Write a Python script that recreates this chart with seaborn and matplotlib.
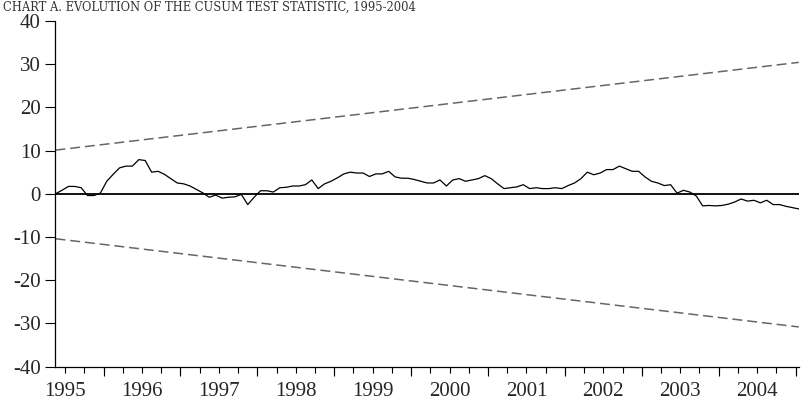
import numpy as np
import pandas as pd
import matplotlib
matplotlib.use("Agg")
from matplotlib import pyplot as plt
import seaborn as sns

OUTFILE = "out.png"

# monthly observations, first one is May 1995
START_YEAR = 1995 + 4.5 / 12

cusum = [0.0, 0.8, 1.7, 1.7, 1.4, -0.4, -0.4, 0.15, 2.9, 4.5,
         6.0, 6.4, 6.4, 7.9, 7.7, 5.0, 5.2, 4.5, 3.5, 2.5,
         2.3, 1.8, 1.0, 0.2, -0.8, -0.3, -1.0, -0.8, -0.7, -0.15,
         -2.5, -0.8, 0.7, 0.7, 0.4, 1.4, 1.5, 1.8, 1.8, 2.1,
         3.2, 1.2, 2.3, 2.9, 3.7, 4.6, 5.0, 4.8, 4.8, 4.0,
         4.6, 4.6, 5.2, 3.9, 3.6, 3.6, 3.3, 2.9, 2.5, 2.5,
         3.2, 1.8, 3.2, 3.5, 2.9, 3.2, 3.5, 4.2, 3.5, 2.3,
         1.2, 1.4, 1.6, 2.1, 1.2, 1.4, 1.2, 1.2, 1.4, 1.2,
         1.9, 2.5, 3.5, 5.0, 4.4, 4.8, 5.6, 5.6, 6.4, 5.8,
         5.2, 5.2, 3.9, 2.9, 2.5, 1.9, 2.1, 0.15, 0.8, 0.4,
         -0.5, -2.8, -2.7, -2.8, -2.7, -2.4, -1.9, -1.2, -1.7, -1.5,
         -2.1, -1.5, -2.5, -2.5, -2.9, -3.2, -3.5]

# 5% significance bands (straight lines), value at first and last obs
band_names = ["upper", "lower"]
band_start = [10.1, -10.4]
band_end = [30.4, -30.8]

year_labels = list(range(1995, 2005))
y_ticks = list(range(-40, 41, 10))

TITLE = "CHART A. EVOLUTION OF THE CUSUM TEST STATISTIC, 1995-2004"


def plot_cusum():
    t = START_YEAR + np.arange(len(cusum)) / 12
    df = pd.DataFrame({"t": t, "cusum": cusum})

    rows = []
    for name, a, b in zip(band_names, band_start, band_end):
        rows.append({"t": t[0], "v": a, "band": name})
        rows.append({"t": t[-1], "v": b, "band": name})
    bands = pd.DataFrame(rows)

    fig = plt.figure(figsize=(8.02, 4.01), dpi=100)
    ax = fig.add_axes([0.0692, 0.0855, 0.9268, 0.8625])

    sns.lineplot(data=bands, x="t", y="v", units="band", estimator=None,
                 color="#666666", linewidth=1.1, linestyle=(0, (6.5, 3.2)), ax=ax)
    ax.axhline(0, color="black", linewidth=1.3, zorder=3)
    sns.lineplot(data=df, x="t", y="cusum", color="black", linewidth=0.9, ax=ax, zorder=4)

    ax.set_xlim(t[0], t[-1])
    ax.set_ylim(-40, 40)
    ax.set_xlabel("")
    ax.set_ylabel("")

    ax.set_yticks(y_ticks)
    ax.set_yticklabels([str(v) for v in y_ticks])
    ax.tick_params(axis="y", direction="out", length=7.5, width=0.8, pad=3,
                   labelsize=15, color="black")

    # year labels centred in each year, quarter marks as minor ticks
    ax.xaxis.remove_overlapping_locs = False
    ax.set_xticks([y + 0.5 for y in year_labels])
    ax.set_xticklabels([str(y) for y in year_labels])
    quarters = np.arange(1995.5, 2005.01, 0.25)
    ax.set_xticks(quarters, minor=True)
    ax.tick_params(axis="x", which="major", length=0, pad=11, labelsize=15)
    ax.tick_params(axis="x", which="minor", direction="out", length=4.2,
                   width=0.8, color="black")

    # longer marks at year boundaries
    sec = ax.secondary_xaxis("bottom")
    sec.set_xticks(list(range(1996, 2006)))
    sec.set_xticklabels([])
    sec.tick_params(direction="out", length=6.2, width=0.8, color="black")
    sec.spines["bottom"].set_visible(False)

    for side in ["top", "right"]:
        ax.spines[side].set_visible(False)
    for side in ["left", "bottom"]:
        ax.spines[side].set_color("black")
        ax.spines[side].set_linewidth(0.9)

    fig.text(0.004, 0.997, TITLE, fontsize=8.3, va="top", color="#333333",
             family=["DejaVu Serif"])

    plt.savefig(OUTFILE, dpi=100)


if __name__ == "__main__":
    sns.set_style("ticks")
    plt.rcParams["font.family"] = ["Liberation Serif", "DejaVu Serif"]
    plt.rcParams["axes.unicode_minus"] = False
    plot_cusum()
